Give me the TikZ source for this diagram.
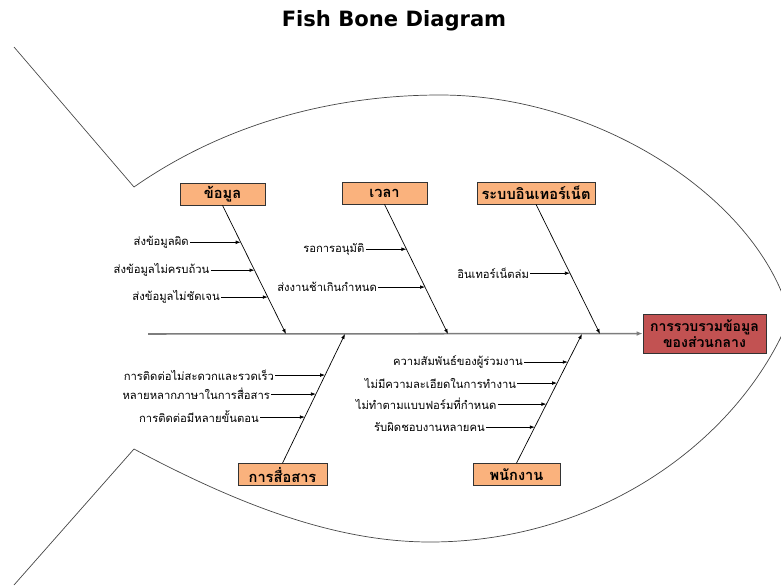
\documentclass[tikz,border=0pt]{standalone}
\usepackage{fontspec}
\newfontfamily\thaifont[Script=Thai]{Loma}
\newfontfamily\titlefont{DejaVu Sans}
\usetikzlibrary{positioning,calc}
\usetikzlibrary{arrows.meta}
\definecolor{causefill}{RGB}{250,178,125}
\definecolor{effectfill}{RGB}{194,82,82}
\definecolor{spinegray}{RGB}{125,125,125}
\definecolor{fishgray}{RGB}{70,70,70}

\begin{document}
\begin{tikzpicture}[x=0.03cm, y=-0.03cm,
         cause/.style = {draw=black!80, fill=causefill, line width=0.6pt,
         minimum height=0.66cm, inner sep=0pt,
         font=\thaifont\bfseries\fontsize{12.5}{14}\selectfont},
         effect/.style = {draw=black!80, fill=effectfill, line width=0.6pt,
         minimum width=3.69cm, minimum height=1.17cm, inner sep=0pt,
         align=center, font=\thaifont\bfseries\fontsize{12}{13.5}\selectfont},
         subcause/.style = {inner sep=1pt, font=\thaifont\fontsize{9.6}{10}\selectfont},
         bone/.style = {line width=0.6pt, -{Latex[length=1.5mm,width=1.1mm]}},
         spine/.style = {line width=1.3pt, spinegray,
         -{Latex[length=1.8mm,width=1.4mm]}},
         fishline/.style = {line width=0.6pt, fishgray}]

   \useasboundingbox (0,0) rectangle (781,585);
   \clip (0,0) rectangle (781,585);

   \node[font=\titlefont\bfseries\fontsize{18}{20}\selectfont] (ttl) at (394,21)
      {Fish Bone Diagram};

   % fish body and tail
   \draw[fishline] (14,47) -- (134,187) .. controls (230,120) and (340,95) .. (440,95)
      .. controls (600,95) and (760,200) .. (790,317);
   \draw[fishline] (14,585) -- (134,449) .. controls (230,500) and (330,542) .. (430,542)
      .. controls (600,542) and (740,440) .. (790,317);

   % head
   \node[effect] (eff) at (704.5,333.5) {การรวบรวมข้อมูล\\ของส่วนกลาง};

   % spine
   \coordinate (s0) at (148,334);
   \draw[spine] (s0) -- (eff);

   % causes, upper row
   \node[cause, minimum width=2.55cm] (c1) at (222.5,194) {ข้อมูล};
   \node[cause, minimum width=2.55cm] (c2) at (384.5,193) {เวลา};
   \node[cause, minimum width=3.54cm] (c3) at (536,193)   {ระบบอินเทอร์เน็ต};

   % causes, lower row
   \node[cause, minimum width=2.67cm] (c4) at (282.5,474.5) {การสื่อสาร};
   \node[cause, minimum width=2.61cm] (c5) at (516.5,474.5) {พนักงาน};

   \coordinate (b1) at (286,334);
   \coordinate (b2) at (448,334);
   \coordinate (b3) at (600,334);
   \coordinate (b4) at (345,334);
   \coordinate (b5) at (582,334);

   \draw[bone] (c1.south) -- (b1);
   \draw[bone] (c2.south) -- (b2);
   \draw[bone] (c3.south) -- (b3);
   \draw[bone] (c4.north) -- (b4);
   \draw[bone] (c5.north) -- (b5);

   % points on the bones
   \coordinate (d11) at ($(c1.south)!0.287!(b1)$);
   \coordinate (d12) at ($(c1.south)!0.504!(b1)$);
   \coordinate (d13) at ($(c1.south)!0.713!(b1)$);
   \coordinate (d21) at ($(c2.south)!0.346!(b2)$);
   \coordinate (d22) at ($(c2.south)!0.638!(b2)$);
   \coordinate (d31) at ($(c3.south)!0.531!(b3)$);
   \coordinate (d41) at ($(c4.north)!0.682!(b4)$);
   \coordinate (d42) at ($(c4.north)!0.535!(b4)$);
   \coordinate (d43) at ($(c4.north)!0.357!(b4)$);
   \coordinate (d51) at ($(c5.north)!0.783!(b5)$);
   \coordinate (d52) at ($(c5.north)!0.620!(b5)$);
   \coordinate (d53) at ($(c5.north)!0.457!(b5)$);
   \coordinate (d54) at ($(c5.north)!0.279!(b5)$);

   % sub causes
   \node[subcause, left=1.52cm of d11] (t11) {ส่งข้อมูลผิด};
   \node[subcause, left=1.31cm of d12] (t12) {ส่งข้อมูลไม่ครบถ้วน};
   \node[subcause, left=1.40cm of d13] (t13) {ส่งข้อมูลไม่ชัดเจน};
   \node[subcause, left=1.22cm of d21] (t21) {รอการอนุมัติ};
   \node[subcause, left=1.40cm of d22] (t22) {ส่งงานช้าเกินกำหนด};
   \node[subcause, left=1.19cm of d31] (t31) {อินเทอร์เน็ตล่ม};
   \node[subcause, left=1.49cm of d41] (t41) {การติดต่อไม่สะดวกและรวดเร็ว};
   \node[subcause, left=1.34cm of d42] (t42) {หลายหลากภาษาในการสื่อสาร};
   \node[subcause, left=1.34cm of d43] (t43) {การติดต่อมีหลายขั้นตอน};
   \node[subcause, left=1.31cm of d51] (t51) {ความสัมพันธ์ของผู้ร่วมงาน};
   \node[subcause, left=1.19cm of d52] (t52) {ไม่มีความละเอียดในการทำงาน};
   \node[subcause, left=1.46cm of d53] (t53) {ไม่ทำตามแบบฟอร์มที่กำหนด};
   \node[subcause, left=1.46cm of d54] (t54) {รับผิดชอบงานหลายคน};

   \draw[bone] (t11) -- (d11);
   \draw[bone] (t12) -- (d12);
   \draw[bone] (t13) -- (d13);
   \draw[bone] (t21) -- (d21);
   \draw[bone] (t22) -- (d22);
   \draw[bone] (t31) -- (d31);
   \draw[bone] (t41) -- (d41);
   \draw[bone] (t42) -- (d42);
   \draw[bone] (t43) -- (d43);
   \draw[bone] (t51) -- (d51);
   \draw[bone] (t52) -- (d52);
   \draw[bone] (t53) -- (d53);
   \draw[bone] (t54) -- (d54);

\end{tikzpicture}
\end{document}
